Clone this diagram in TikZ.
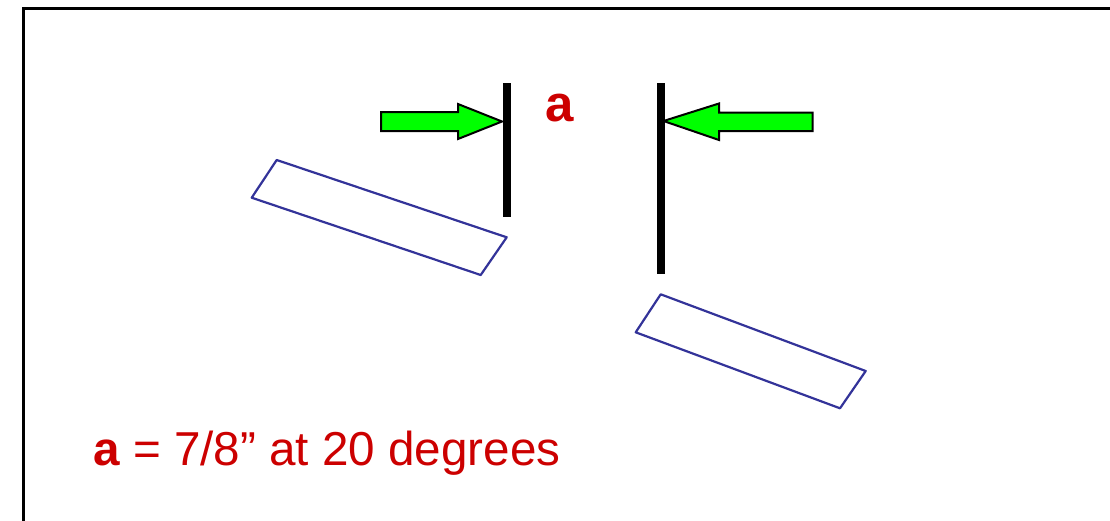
\documentclass[tikz,border=0pt]{standalone}
\usepackage{fontspec}
\setmainfont{Liberation Sans}
\usepackage{xcolor}
\definecolor{labelred}{HTML}{CC0000}
\definecolor{pushgreen}{HTML}{00FF00}
\definecolor{blockblue}{HTML}{333399}

\begin{document}
\begin{tikzpicture}[x=1pt, y=-1pt,
  plate/.style={line width=8pt},
  pusher/.style={draw=black, fill=pushgreen, line width=2pt, line join=miter},
  block/.style={draw=blockblue, line width=2.2pt, line join=round},
  lbl/.style={text=labelred, inner sep=0pt}]
  \useasboundingbox (0,0) rectangle (1110,520);
  \clip (0,0) rectangle (1110,520);
  \draw[line width=3pt] (23,8) rectangle (1125,535);
  % plates
  \coordinate (lplatetop) at (506.7,83);
  \coordinate (lplatebot) at (506.7,217);
  \coordinate (rplatetop) at (660.5,83);
  \coordinate (rplatebot) at (660.5,274);
  \draw[plate] (lplatetop) -- (lplatebot);
  \draw[plate] (rplatetop) -- (rplatebot);
  % pushing arrows
  \coordinate (ltip) at (502,121.5);
  \coordinate (rtip) at (663.5,121);
  \draw[pusher] (ltip) -- ++(-44,-17.5) -- ++(0,8) -- ++(-77,0) -- ++(0,19)
    -- ++(77,0) -- ++(0,8) -- cycle;
  \draw[pusher] (rtip) -- ++(55.5,-17.5) -- ++(0,9) -- ++(93.7,0) -- ++(0,18.5)
    -- ++(-93.7,0) -- ++(0,9) -- cycle;
  % blocks
  \draw[block] (276.7,160) -- (251.7,197.7) -- (480.7,275) -- (506.7,237.3) -- cycle;
  \draw[block] (660.7,294.3) -- (635.7,332.3) -- (840,408.3) -- (865.7,371) -- cycle;
  % labels
  \node[lbl, font=\bfseries\fontsize{51}{60}\selectfont] (gaplabel) at (560,108) {a};
  \node[lbl, anchor=base west, font=\fontsize{47.6}{56}\selectfont] (caption) at (93,465)
    {\textbf{a} = 7/8” at 20 degrees};
\end{tikzpicture}
\end{document}
